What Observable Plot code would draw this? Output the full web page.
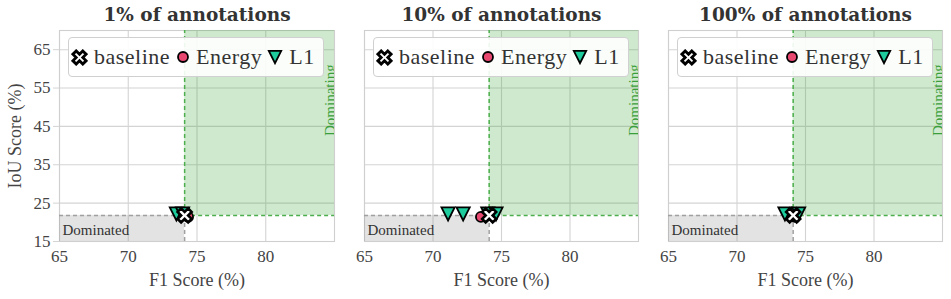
<!DOCTYPE html>
<html><head><meta charset="utf-8">
<script src="https://cdn.jsdelivr.net/npm/d3@7"></script>
<script src="https://cdn.jsdelivr.net/npm/@observablehq/plot@0.6"></script>
<style>
body{margin:0;background:#fff;}
#wrap{position:relative;width:951px;height:299px;overflow:hidden;}
.panel{position:absolute;top:0;}
.legend{position:absolute;top:37px;height:40px;box-sizing:border-box;border:1px solid #d0d0d0;border-radius:4px;background:rgba(255,255,255,0.9);display:flex;align-items:center;padding-left:2px;font-family:"Liberation Serif",serif;font-size:22px;letter-spacing:0.5px;color:#333;white-space:nowrap;}
.legend svg{flex:none;}
.legend span{margin-right:5px;}
</style></head><body><div id="wrap"></div>
<script>
// ---- data ----
const titles = ["1% of annotations", "10% of annotations", "100% of annotations"];
const baselineF1 = [74.1, 74.1, 74.1];
const baselineIoU = [21.8, 21.8, 21.8];
const energyF1 = [[74.35], [73.5], [74.2]];
const energyIoU = [[21.4], [21.4], [21.4]];
const l1F1 = [[73.5, 73.95], [71.1, 72.2, 74.0, 74.6], [73.5, 74.5]];
const l1IoU = [[22.2, 22.2], [22.2, 22.2, 22.2, 22.2], [22.2, 22.2]];
const xTicks = [65, 70, 75, 80];
const yTicks = [15, 25, 35, 45, 55, 65];
const xDomain = [65, 85];
const yDomain = [15, 70];
const seriesNames = ["baseline", "Energy", "L1"];

// ---- styles ----
const colEnergy = "#e8476f", colL1 = "#1ecb9c";
const FONT = "Liberation Serif";

// custom symbols
const symX = {draw(ctx, size) {
  const r = Math.sqrt(size / Math.PI), a = r / 1.4142;
  const pts = [[-0.5,-1.5],[0.5,-1.5],[0.5,-0.5],[1.5,-0.5],[1.5,0.5],[0.5,0.5],[0.5,1.5],[-0.5,1.5],[-0.5,0.5],[-1.5,0.5],[-1.5,-0.5],[-0.5,-0.5]];
  pts.forEach(([x, y], i) => {
    const u = (x - y) / Math.SQRT2 * a, v = (x + y) / Math.SQRT2 * a;
    i ? ctx.lineTo(u, v) : ctx.moveTo(u, v);
  });
  ctx.closePath();
}};
const symTriDown = {draw(ctx, size) {
  const r = Math.sqrt(size / Math.PI);
  ctx.moveTo(-r, -r); ctx.lineTo(r, -r); ctx.lineTo(0, r); ctx.closePath();
}};

const layout = [
  {left: 0, width: 340, ml: 59, mr: 6},
  {left: 340, width: 304, ml: 24, mr: 6},
  {left: 644, width: 302, ml: 24, mr: 4}
];

const wrap = document.getElementById("wrap");
titles.forEach((title, i) => {
  const L = layout[i];
  const bx = baselineF1[i], by = baselineIoU[i];
  const energy = energyF1[i].map((f, j) => ({f, iou: energyIoU[i][j]}));
  const l1 = l1F1[i].map((f, j) => ({f, iou: l1IoU[i][j]}));
  const base = [{f: bx, iou: by}];
  const marks = [
    Plot.gridX(xTicks, {stroke: "#d4d4d4", strokeOpacity: 1, strokeWidth: 1.1}),
    Plot.gridY(yTicks, {stroke: "#d4d4d4", strokeOpacity: 1, strokeWidth: 1.1}),
    Plot.frame({stroke: "#cfcfcf", strokeWidth: 1.1}),
    Plot.rect(base, {x1: "f", x2: () => xDomain[1], y1: "iou", y2: () => yDomain[1], fill: "#2ca02c", fillOpacity: 0.23}),
    Plot.rect(base, {x1: () => xDomain[0], x2: "f", y1: () => yDomain[0], y2: "iou", fill: "#808080", fillOpacity: 0.22}),
    Plot.ruleX(base, {x: "f", y1: "iou", y2: () => yDomain[1], stroke: "#4cae4c", strokeWidth: 1.5, strokeDasharray: "4,3"}),
    Plot.ruleY(base, {y: "iou", x1: "f", x2: () => xDomain[1], stroke: "#4cae4c", strokeWidth: 1.5, strokeDasharray: "4,3"}),
    Plot.ruleX(base, {x: "f", y1: () => yDomain[0], y2: "iou", stroke: "#a0a0a0", strokeWidth: 1.5, strokeDasharray: "4,3"}),
    Plot.ruleY(base, {y: "iou", x1: () => xDomain[0], x2: "f", stroke: "#a0a0a0", strokeWidth: 1.5, strokeDasharray: "4,3"}),
    Plot.text(["Dominated"], {frameAnchor: "bottom-left", dx: 3, dy: -11, textAnchor: "start", lineAnchor: "middle", fontSize: 15, fill: "#333", fontFamily: FONT, style: {letterSpacing: "0.3px"}}),
    Plot.text(["Dominating"], {frameAnchor: "right", dx: 0.5, rotate: -90, textAnchor: "start", lineAnchor: "bottom", fontSize: 15, fill: "#3a9e3a", fontFamily: FONT, clip: true, style: {letterSpacing: "0.6px"}}),
    Plot.dot(energy, {x: "f", y: "iou", r: 5, fill: colEnergy, stroke: "black", strokeWidth: 1.8}),
    Plot.dot(l1, {x: "f", y: "iou", r: 6.6, symbol: symTriDown, fill: colL1, stroke: "black", strokeWidth: 1.8}),
    Plot.dot(base, {x: "f", y: "iou", r: 7, symbol: symX, fill: "white", stroke: "black", strokeWidth: 2.6}),
    Plot.axisX(xTicks, {tickSize: 0, tickPadding: 8, fontSize: 17, label: null, fill: "#444"}),
    Plot.text([title], {frameAnchor: "top", dy: -15, textAnchor: "middle", lineAnchor: "middle", fontFamily: "DejaVu Serif", fontWeight: "bold", fontSize: 18.5, fill: "#333"}),
    Plot.text(["F1 Score (%)"], {frameAnchor: "bottom", dy: 39, textAnchor: "middle", lineAnchor: "middle", fontSize: 18, fill: "#444", fontFamily: FONT, style: {letterSpacing: "0.4px"}})
  ];
  if (i === 0) {
    marks.push(Plot.axisY(yTicks, {tickSize: 6, stroke: "#d4d4d4", tickPadding: 3, fontSize: 17, label: null, fill: "#444"}));
    marks.push(Plot.text(["IoU Score (%)"], {frameAnchor: "left", dx: -44, rotate: -90, textAnchor: "middle", lineAnchor: "middle", fontSize: 18, fill: "#444", fontFamily: FONT}));
  }
  const p = Plot.plot({
    width: L.width, height: 299,
    marginLeft: L.ml, marginRight: L.mr, marginTop: 30, marginBottom: 58,
    x: {domain: xDomain, axis: null},
    y: {domain: yDomain, axis: null},
    style: {fontFamily: FONT, fontSize: "17px", color: "#444", background: "transparent"},
    marks
  });
  p.classList.add("panel");
  p.style.left = L.left + "px";
  wrap.appendChild(p);

  // legend
  const lg = document.createElement("div");
  lg.className = "legend";
  lg.style.left = (L.left + L.ml + 9) + "px";
  lg.style.width = "256px";
  const xPath = d3.symbol(symX, Math.PI * 6.6 * 6.6)();
  const triPath = d3.symbol(symTriDown, Math.PI * 6.2 * 6.2)();
  const circPath = d3.symbol(d3.symbolCircle, Math.PI * 5 * 5)();
  lg.innerHTML =
    `<svg width="17" height="17" viewBox="-8.5 -8.5 17 17" style="margin-right:6px"><path d="${xPath}" fill="white" stroke="black" stroke-width="2.8"/></svg><span>${seriesNames[0]}</span>` +
    `<svg width="16" height="16" viewBox="-8 -8 16 16" style="margin-right:5px"><path d="${circPath}" fill="${colEnergy}" stroke="black" stroke-width="1.8"/></svg><span>${seriesNames[1]}</span>` +
    `<svg width="16" height="16" viewBox="-8 -8 16 16" style="margin-right:6px"><path d="${triPath}" fill="${colL1}" stroke="black" stroke-width="1.8"/></svg><span>${seriesNames[2]}</span>`;
  wrap.appendChild(lg);
});
</script></body></html>
